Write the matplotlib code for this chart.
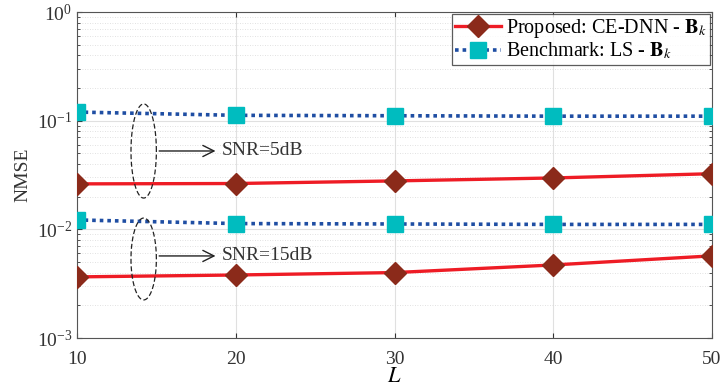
import matplotlib
matplotlib.use("Agg")
import matplotlib.pyplot as plt
import numpy as np

plt.rcParams['font.family'] = ['Liberation Serif', 'DejaVu Serif']
plt.rcParams['mathtext.fontset'] = 'stix'

L = [10, 20, 30, 40, 50]
prop_5db = [0.0262, 0.0264, 0.0279, 0.0297, 0.0325]
bench_5db = [0.120, 0.112, 0.111, 0.110, 0.110]
prop_15db = [0.00365, 0.0038, 0.0040, 0.0047, 0.0057]
bench_15db = [0.0122, 0.0113, 0.0112, 0.0111, 0.0111]

red = '#ee1c25'
brown = '#8b2a1a'
blue = '#1f4ea3'
cyan = '#00bcbf'

fig = plt.figure(figsize=(7.24, 3.91), dpi=100)
ax = fig.add_axes([77/724, 1-338/391, (712-77)/724, (338-12)/391])

kw_p = dict(color=red, lw=2.4, marker='D', ms=11, mfc=brown, mec=brown, zorder=3)
kw_b = dict(color=blue, lw=2.6, ls=(0, (1, 1.1)), marker='s', ms=11, mfc=cyan, mec=cyan, zorder=3)
ax.plot(L, prop_5db, label=r'Proposed: CE-DNN - $\mathbf{B}_k$', **kw_p)
ax.plot(L, bench_5db, label=r'Benchmark: LS - $\mathbf{B}_k$', **kw_b)
ax.plot(L, prop_15db, **kw_p)
ax.plot(L, bench_15db, **kw_b)

ax.set_yscale('log')
ax.set_ylim(1e-3, 1)
ax.set_xlim(10, 50)
ax.set_xticks(L)
ax.grid(True, which='major', color='#e0e0e0', lw=0.8)
ax.grid(True, which='minor', axis='y', color='#d8d8d8', lw=0.6, ls=(0, (1, 2)))
ax.set_axisbelow(True)
for s in ax.spines.values():
    s.set_color('#555555')
ax.tick_params(which='both', direction='in', top=True, right=True, colors='#333333',
               labelsize=14, labelcolor='#333333')
ax.tick_params(axis='x', pad=9)
ax.set_xlabel(r'$L$', fontsize=16, labelpad=0)
ax.set_ylabel('NMSE', fontsize=14, color='#333333')

# dashed ellipses + arrows marking the SNR groups
t = np.linspace(0, 2*np.pi, 200)
for (ylo, yhi, ya, txt) in [(0.0194, 0.1425, 0.0526, 'SNR=5dB'),
                            (0.00224, 0.0127, 0.00569, 'SNR=15dB')]:
    lc = (np.log10(yhi) + np.log10(ylo)) / 2
    hr = (np.log10(yhi) - np.log10(ylo)) / 2
    ax.plot(14.2 + 0.8*np.cos(t), 10**(lc + hr*np.sin(t)), color='#222222', lw=0.9,
            ls=(0, (4, 2)), zorder=4)
    ax.annotate('', xy=(18.9, ya), xytext=(15.0, ya),
                arrowprops=dict(arrowstyle='->', color='#222222', lw=1.0, mutation_scale=20))
    ax.text(19.1, ya, txt, fontsize=14, va='center', ha='left', color='#333333')

leg = ax.legend(loc='upper right', fontsize=14.5, frameon=True, fancybox=False,
                borderpad=0.15, labelspacing=0.05, handlelength=2.3, handletextpad=0.25,
                borderaxespad=0.1)
leg.get_frame().set_edgecolor('#333333')
leg.get_frame().set_linewidth(0.9)

fig.savefig('out.png', dpi=100)
